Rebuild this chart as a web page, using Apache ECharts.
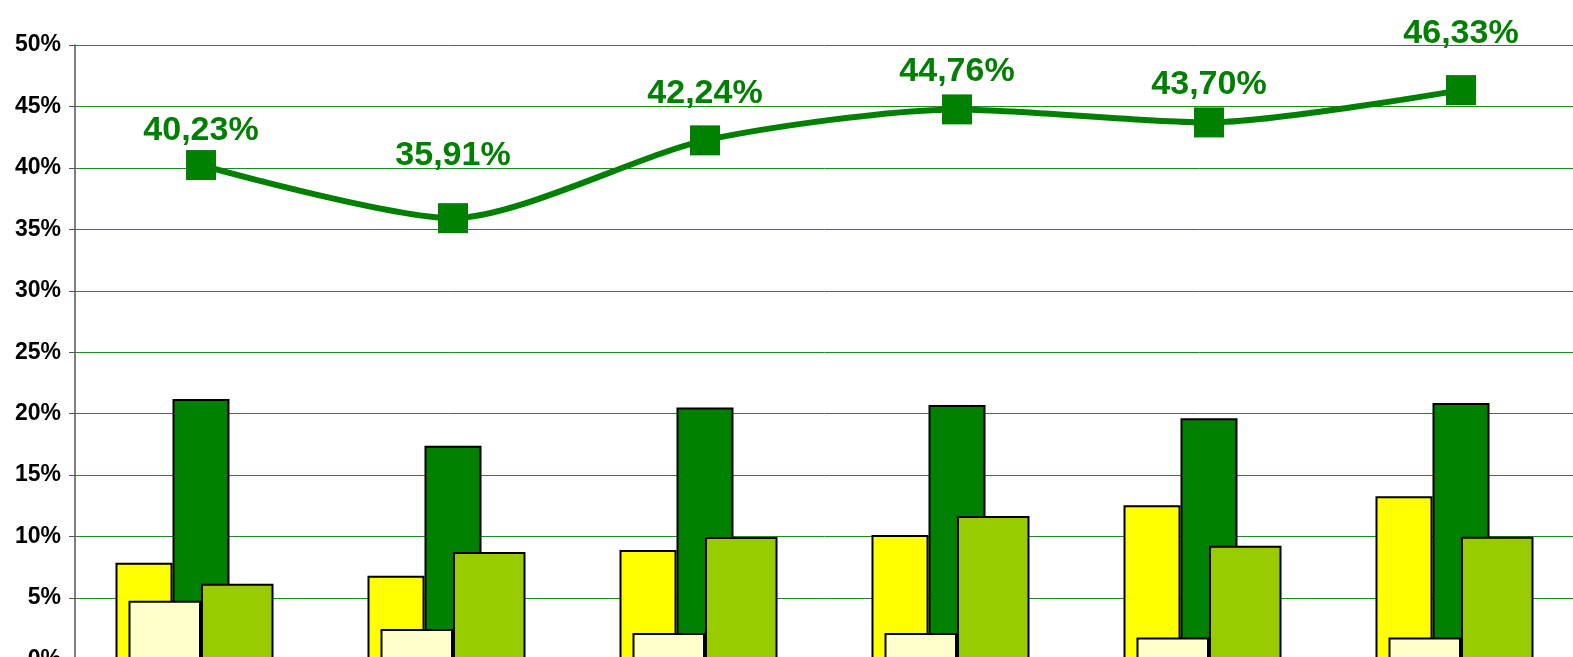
<!DOCTYPE html>
<html>
<head>
<meta charset="utf-8">
<script src="https://cdn.jsdelivr.net/npm/echarts@6/dist/echarts.min.js"></script>
<style>
  html, body { margin: 0; padding: 0; background: #fff; overflow: hidden; }
  #chart { width: 1573px; height: 657px; }
</style>
</head>
<body>
<div id="chart"></div>
<script>
const categories = ['1', '2', '3', '4', '5', '6'];
const yellowValues = [7.88, 6.82, 8.90, 10.13, 12.55, 13.28];
const darkGreenValues = [21.2, 17.4, 20.5, 20.7, 19.63, 20.87];
const creamValues = [4.78, 2.48, 2.16, 2.16, 1.8, 1.8];
const lightGreenValues = [6.17, 8.75, 9.97, 11.68, 9.26, 9.99];
const lineValues = [40.23, 35.91, 42.24, 44.76, 43.70, 46.33];
const spacerValues = [null, null, null, null, null, null];
const yTicks = { min: 0, max: 50, interval: 5 };

// label placement style (distance above each marker, px)
const LABEL_DISTANCE = [2, 31, 15, 6, 6, 24];

const FONT = '"Liberation Sans", Arial, sans-serif';
const chart = echarts.init(document.getElementById('chart'), null, { renderer: 'canvas' });

const backBar = (name, data, color, z) => ({
  name, type: 'bar', xAxisIndex: 0, yAxisIndex: 0, data,
  barWidth: 57, barGap: '0%',
  itemStyle: { color, borderColor: '#000', borderWidth: 2 },
  z
});
const frontBar = (name, data, color, z) => ({
  name, type: 'bar', xAxisIndex: 1, yAxisIndex: 0, data,
  barWidth: 72.5, barGap: '0%',
  itemStyle: { color, borderColor: '#000', borderWidth: 2 },
  z
});

const lineData = lineValues.map((v, i) => ({ value: v, label: { distance: LABEL_DISTANCE[i] } }));

chart.setOption({
  animation: false,
  backgroundColor: '#ffffff',
  grid: { left: 75, top: 45, right: -14, bottom: -2.5, containLabel: false, outerBoundsMode: 'none' },
  xAxis: [
    { type: 'category', data: categories, boundaryGap: true,
      axisLine: { show: false }, axisTick: { show: false }, axisLabel: { show: false } },
    { type: 'category', data: categories, boundaryGap: true, position: 'bottom',
      axisLine: { show: false }, axisTick: { show: false }, axisLabel: { show: false } }
  ],
  yAxis: {
    type: 'value', min: yTicks.min, max: yTicks.max, interval: yTicks.interval,
    axisLine: { show: true, lineStyle: { color: '#555', width: 1.5 } },
    axisTick: { show: true, length: 6, lineStyle: { color: '#555', width: 1 } },
    axisLabel: { formatter: '{value}%', color: '#000', fontWeight: 'bold',
      fontSize: 23, fontFamily: FONT, margin: 14 },
    splitLine: { show: true, lineStyle: { color: '#1f8a1f', width: 1 } }
  },
  series: [
    backBar('Yellow', yellowValues, '#FFFF00', 2),
    backBar('Dark green', darkGreenValues, '#008000', 2),
    backBar('Spacer', spacerValues, 'transparent', 2),
    frontBar('Cream', creamValues, '#FFFFCC', 3),
    frontBar('Light green', lightGreenValues, '#99CC00', 3),
    {
      name: 'Line', type: 'line', xAxisIndex: 0, yAxisIndex: 0, data: lineData,
      smooth: 0.25, symbol: 'rect', symbolSize: 30,
      lineStyle: { color: '#008000', width: 6 },
      itemStyle: { color: '#008000' },
      label: { show: true, position: 'top', distance: 5, color: '#008000',
        fontWeight: 'bold', fontSize: 34, fontFamily: FONT,
        formatter: p => p.value.toFixed(2).replace('.', ',') + '%' },
      labelLayout: { hideOverlap: false },
      z: 5
    }
  ]
});
</script>
</body>
</html>
